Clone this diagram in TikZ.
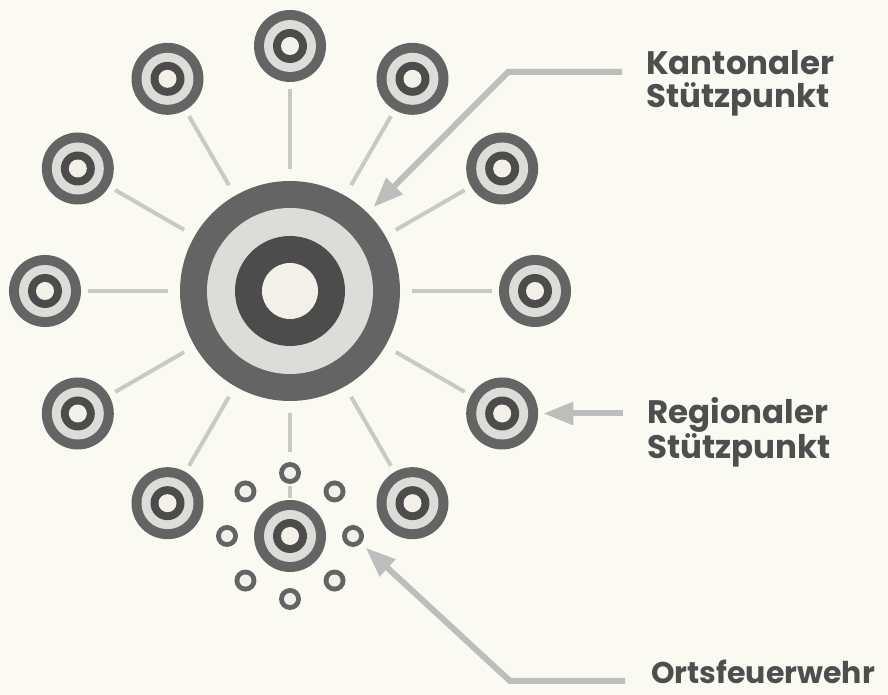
\documentclass[tikz,border=0pt]{standalone}
\usepackage{fontspec}
\setmainfont{Poppins}
\usetikzlibrary{arrows.meta,calc}

\definecolor{paper}{HTML}{FBFAF2}
\definecolor{ringouter}{HTML}{646464}
\definecolor{ringlight}{HTML}{DCDCD9}
\definecolor{ringinner}{HTML}{4C4C4C}
\definecolor{ringcore}{HTML}{F2F0E8}
\definecolor{spokegray}{HTML}{C9C9C6}
\definecolor{arrowgray}{HTML}{BDBDBB}
\definecolor{labelgray}{HTML}{4E4E4E}

\begin{document}
\begin{tikzpicture}[x=1pt,y=1pt,
    bigtarget/.style={circle, inner sep=0pt, minimum size=220pt, fill=ringouter,
      path picture={
        \fill[ringlight] (path picture bounding box.center) circle (83pt);
        \fill[ringinner] (path picture bounding box.center) circle (55pt);
        \fill[ringcore] (path picture bounding box.center) circle (28pt);}},
    smalltarget/.style={circle, inner sep=0pt, minimum size=72pt, fill=ringouter,
      path picture={
        \fill[ringlight] (path picture bounding box.center) circle (26pt);
        \fill[ringinner] (path picture bounding box.center) circle (17pt);
        \fill[ringcore] (path picture bounding box.center) circle (9pt);}},
    smalldot/.style={circle, inner sep=0pt, minimum size=22pt, fill=ringouter,
      path picture={
        \fill[ringcore] (path picture bounding box.center) circle (6pt);}},
    spoke/.style={draw=spokegray, line width=4pt, shorten <=12pt, shorten >=7pt},
    pointer/.style={draw=arrowgray, line width=6pt, -{Triangle[length=30pt,width=22pt]}},
    labeltext/.style={font=\bfseries\fontsize{32.5}{33}\selectfont, text=labelgray,
      align=left, inner sep=0pt, anchor=north west}
  ]
  \fill[paper] (0,0) rectangle (888,695);
  \useasboundingbox (0,0) rectangle (888,695);

  % Kantonaler Stuetzpunkt
  \node[bigtarget] (kanton) at (290,404) {};

  % regionale Stuetzpunkte im Kreis
  \foreach \a in {0,30,...,330}
    \node[smalltarget] (t\a) at ($(kanton.center)+(\a:245)$) {};

  % Ortsfeuerwehr: kleine Ringe um den unteren Stuetzpunkt
  \foreach \b in {0,45,...,315}
    \node[smalldot] (o\b) at ($(t270.center)+(\b:63)$) {};

  % Speichen
  \foreach \a in {0,30,...,240,300,330}
    \draw[spoke] (kanton) -- (t\a);
  \draw[spoke, shorten >=10pt] (kanton) -- (o90);
  \draw[spoke, shorten <=2pt, shorten >=2pt] (o90) -- (t270);

  % Beschriftungen
  \node[labeltext] (kantlabel) at (646,645) {Kantonaler\\Stützpunkt};
  \node[labeltext] (reglabel) at (647,298) {Regionaler\\Stützpunkt};
  \node[labeltext, font=\bfseries\fontsize{30}{33}\selectfont] (ortlabel) at (651,35) {Ortsfeuerwehr};

  % Pfeile
  \coordinate (kantstart) at (622,623);
  \coordinate (kantknee) at (508,623);
  \draw[pointer, shorten >=8pt] (kantstart) -- (kantknee) -- (kanton);

  \coordinate (regstart) at ([xshift=121pt]t330.center);
  \draw[pointer, shorten >=5pt] (regstart) -- (t330);

  \coordinate (ortstart) at (625,14);
  \coordinate (ortknee) at (510,14);
  \draw[pointer, shorten >=6pt] (ortstart) -- (ortknee) -- (o0);
\end{tikzpicture}
\end{document}
